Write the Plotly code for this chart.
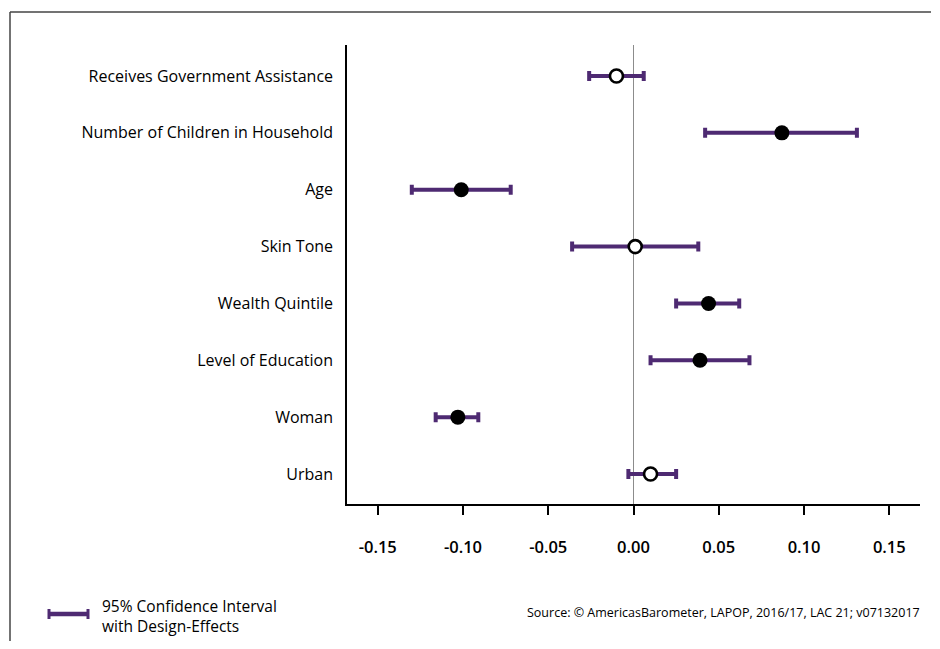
import plotly.graph_objects as go

categories = ["Receives Government Assistance", "Number of Children in Household", "Age",
              "Skin Tone", "Wealth Quintile", "Level of Education", "Woman", "Urban"]
coef = [-0.010, 0.087, -0.101, 0.001, 0.044, 0.039, -0.103, 0.010]
ci_low = [-0.026, 0.042, -0.130, -0.036, 0.025, 0.010, -0.116, -0.003]
ci_high = [0.006, 0.131, -0.072, 0.038, 0.062, 0.068, -0.091, 0.025]
significant = [False, True, True, False, True, True, True, False]
tick_vals = [-0.15, -0.10, -0.05, 0.00, 0.05, 0.10, 0.15]
tick_text = ["-0.15", "-0.10", "-0.05", "0.00", "0.05", "0.10", "0.15"]

purple = "#4E2A72"
font_family = "Open Sans, DejaVu Sans, sans-serif"

# figure is drawn with an 8px page offset; sized so that no scrollbar appears
W, H = 924, 633
ML, MT = 339, 37
MR = W - (920 - 8)
MB = H - (504 - 8)
PW, PH = W - ML - MR, H - MT - MB
OFF = 8


def px(x):
    return (x - OFF - ML) / PW


def py(y):
    return (H - MB - (y - OFF)) / PH


fig = go.Figure()
fig.add_trace(go.Scatter(
    x=coef, y=categories, mode="markers",
    error_x=dict(type="data", symmetric=False,
                 array=[h - c for h, c in zip(ci_high, coef)],
                 arrayminus=[c - l for c, l in zip(coef, ci_low)],
                 color=purple, thickness=4, width=5),
    marker=dict(size=[15 if s else 13 for s in significant], opacity=1,
                color=["black" if s else "white" for s in significant],
                line=dict(color="black", width=[0 if s else 2.6 for s in significant])),
    showlegend=False, hoverinfo="skip",
))

fig.update_layout(
    width=W, height=H,
    margin=dict(l=ML, r=MR, t=MT, b=MB),
    paper_bgcolor="white", plot_bgcolor="white",
    font=dict(family=font_family, color="black"),
    xaxis=dict(range=[-0.168, 0.168], tickvals=tick_vals, ticktext=tick_text,
               showgrid=False, zeroline=True, zerolinecolor="#8c8c8c", zerolinewidth=1,
               showline=True, linecolor="black", linewidth=1.5,
               ticks="outside", ticklen=9, tickwidth=1.5, tickcolor="black",
               ticklabelstandoff=18,
               tickfont=dict(size=16.5, family=font_family, weight=600)),
    yaxis=dict(type="category", categoryorder="array", categoryarray=categories[::-1],
               range=[-0.527, 7.545], showgrid=False, zeroline=False,
               showline=True, linecolor="black", linewidth=1.5, ticks="",
               ticklabelstandoff=9,
               tickfont=dict(size=16, family=font_family, weight=500)),
)

# outer frame (top and left), kept inside the figure
fig.add_shape(type="line", xref="paper", yref="paper", x0=px(10), x1=px(OFF + W - 1),
              y0=py(12), y1=py(12), line=dict(color="#444444", width=1.5))
fig.add_shape(type="line", xref="paper", yref="paper", x0=px(10), x1=px(10),
              y0=py(12), y1=py(OFF + H), line=dict(color="#444444", width=1.5))

# legend sample
fig.add_shape(type="line", xref="paper", yref="paper", x0=px(49), x1=px(88),
              y0=py(614), y1=py(614), line=dict(color=purple, width=4.5))
for xx in (49, 88):
    fig.add_shape(type="line", xref="paper", yref="paper", x0=px(xx), x1=px(xx),
                  y0=py(609), y1=py(619), line=dict(color=purple, width=3))

fig.add_annotation(xref="paper", yref="paper", x=px(100), y=py(616), xanchor="left", yanchor="middle",
                   text="95% Confidence Interval<br>with Design-Effects", showarrow=False, align="left",
                   font=dict(size=15.5, family=font_family, weight=500))
fig.add_annotation(xref="paper", yref="paper", x=px(922), y=py(612),
                   xanchor="right", yanchor="middle",
                   text="Source: © AmericasBarometer, LAPOP, 2016/17, LAC 21; v07132017", showarrow=False,
                   font=dict(size=12.5, family=font_family, weight=500))

fig.write_html("out.html")
